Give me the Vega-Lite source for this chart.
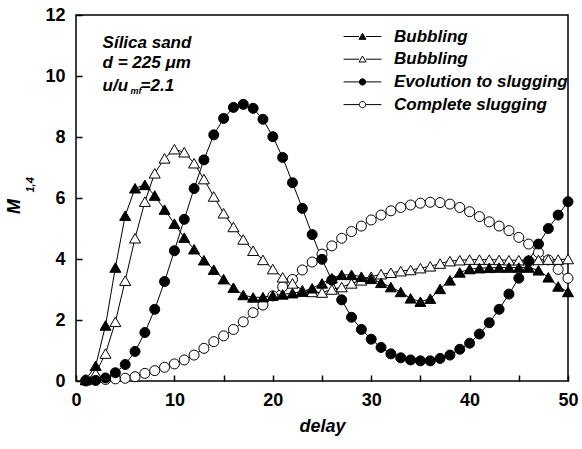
{
  "$schema": "https://vega.github.io/schema/vega-lite/v6.json",
  "autosize": {"type": "none"},
  "padding": {"left": 76, "top": 15, "right": 14, "bottom": 68},
  "width": 492,
  "height": 366,
  "background": "white",
  "config": {
    "font": "Liberation Sans",
    "view": {"stroke": "black", "strokeWidth": 1.5},
    "axis": {
      "domain": false, "offset": -6,
      "ticks": true, "tickColor": "black", "tickOpacity": 1, "tickWidth": 1.5, "tickSize": 6,
      "labelColor": "black", "labelFont": "Liberation Sans", "labelFontWeight": "bold", "labelFontSize": 18,
      "labelFlush": false, "labelOverlap": false,
      "titleColor": "black", "titleFont": "Liberation Sans", "titleFontWeight": "bold", "titleFontStyle": "italic", "titleFontSize": 18,
      "grid": false, "zindex": 1
    }
  },
  "datasets": {
    "main": [
      {"series":"Bubbling A","delay":1,"M":0.05},{"series":"Bubbling A","delay":2,"M":0.5},{"series":"Bubbling A","delay":3,"M":1.82},{"series":"Bubbling A","delay":4,"M":3.72},{"series":"Bubbling A","delay":5,"M":5.42},{"series":"Bubbling A","delay":6,"M":6.32},{"series":"Bubbling A","delay":7,"M":6.43},{"series":"Bubbling A","delay":8,"M":6.08},{"series":"Bubbling A","delay":9,"M":5.62},{"series":"Bubbling A","delay":10,"M":5.16},
      {"series":"Bubbling A","delay":11,"M":4.7},{"series":"Bubbling A","delay":12,"M":4.32},{"series":"Bubbling A","delay":13,"M":3.96},{"series":"Bubbling A","delay":14,"M":3.65},{"series":"Bubbling A","delay":15,"M":3.34},{"series":"Bubbling A","delay":16,"M":3.06},{"series":"Bubbling A","delay":17,"M":2.82},{"series":"Bubbling A","delay":18,"M":2.74},{"series":"Bubbling A","delay":19,"M":2.75},{"series":"Bubbling A","delay":20,"M":2.8},
      {"series":"Bubbling A","delay":21,"M":2.84},{"series":"Bubbling A","delay":22,"M":2.88},{"series":"Bubbling A","delay":23,"M":2.93},{"series":"Bubbling A","delay":24,"M":3.04},{"series":"Bubbling A","delay":25,"M":3.2},{"series":"Bubbling A","delay":26,"M":3.37},{"series":"Bubbling A","delay":27,"M":3.48},{"series":"Bubbling A","delay":28,"M":3.48},{"series":"Bubbling A","delay":29,"M":3.42},{"series":"Bubbling A","delay":30,"M":3.35},
      {"series":"Bubbling A","delay":31,"M":3.22},{"series":"Bubbling A","delay":32,"M":3.08},{"series":"Bubbling A","delay":33,"M":2.92},{"series":"Bubbling A","delay":34,"M":2.71},{"series":"Bubbling A","delay":35,"M":2.6},{"series":"Bubbling A","delay":36,"M":2.7},{"series":"Bubbling A","delay":37,"M":3.02},{"series":"Bubbling A","delay":38,"M":3.3},{"series":"Bubbling A","delay":39,"M":3.56},{"series":"Bubbling A","delay":40,"M":3.67},
      {"series":"Bubbling A","delay":41,"M":3.7},{"series":"Bubbling A","delay":42,"M":3.71},{"series":"Bubbling A","delay":43,"M":3.72},{"series":"Bubbling A","delay":44,"M":3.72},{"series":"Bubbling A","delay":45,"M":3.72},{"series":"Bubbling A","delay":46,"M":3.72},{"series":"Bubbling A","delay":47,"M":3.63},{"series":"Bubbling A","delay":48,"M":3.4},{"series":"Bubbling A","delay":49,"M":3.1},{"series":"Bubbling A","delay":50,"M":2.92},

      {"series":"Bubbling B","delay":1,"M":0.03},{"series":"Bubbling B","delay":2,"M":0.25},{"series":"Bubbling B","delay":3,"M":0.9},{"series":"Bubbling B","delay":4,"M":1.94},{"series":"Bubbling B","delay":5,"M":3.29},{"series":"Bubbling B","delay":6,"M":4.68},{"series":"Bubbling B","delay":7,"M":5.88},{"series":"Bubbling B","delay":8,"M":6.81},{"series":"Bubbling B","delay":9,"M":7.3},{"series":"Bubbling B","delay":10,"M":7.6},
      {"series":"Bubbling B","delay":11,"M":7.5},{"series":"Bubbling B","delay":12,"M":7.14},{"series":"Bubbling B","delay":13,"M":6.62},{"series":"Bubbling B","delay":14,"M":6.05},{"series":"Bubbling B","delay":15,"M":5.5},{"series":"Bubbling B","delay":16,"M":5.05},{"series":"Bubbling B","delay":17,"M":4.64},{"series":"Bubbling B","delay":18,"M":4.27},{"series":"Bubbling B","delay":19,"M":3.97},{"series":"Bubbling B","delay":20,"M":3.67},
      {"series":"Bubbling B","delay":21,"M":3.4},{"series":"Bubbling B","delay":22,"M":3.2},{"series":"Bubbling B","delay":23,"M":2.98},{"series":"Bubbling B","delay":24,"M":2.92},{"series":"Bubbling B","delay":25,"M":2.9},{"series":"Bubbling B","delay":26,"M":3.0},{"series":"Bubbling B","delay":27,"M":3.08},{"series":"Bubbling B","delay":28,"M":3.2},{"series":"Bubbling B","delay":29,"M":3.3},{"series":"Bubbling B","delay":30,"M":3.42},
      {"series":"Bubbling B","delay":31,"M":3.5},{"series":"Bubbling B","delay":32,"M":3.55},{"series":"Bubbling B","delay":33,"M":3.6},{"series":"Bubbling B","delay":34,"M":3.64},{"series":"Bubbling B","delay":35,"M":3.7},{"series":"Bubbling B","delay":36,"M":3.76},{"series":"Bubbling B","delay":37,"M":3.85},{"series":"Bubbling B","delay":38,"M":3.93},{"series":"Bubbling B","delay":39,"M":3.96},{"series":"Bubbling B","delay":40,"M":3.98},
      {"series":"Bubbling B","delay":41,"M":3.98},{"series":"Bubbling B","delay":42,"M":3.98},{"series":"Bubbling B","delay":43,"M":3.97},{"series":"Bubbling B","delay":44,"M":3.96},{"series":"Bubbling B","delay":45,"M":3.96},{"series":"Bubbling B","delay":46,"M":3.96},{"series":"Bubbling B","delay":47,"M":3.97},{"series":"Bubbling B","delay":48,"M":3.98},{"series":"Bubbling B","delay":49,"M":3.98},{"series":"Bubbling B","delay":50,"M":4.0},

      {"series":"Evolution to slugging","delay":1,"M":0.0},{"series":"Evolution to slugging","delay":2,"M":0.02},{"series":"Evolution to slugging","delay":3,"M":0.1},{"series":"Evolution to slugging","delay":4,"M":0.27},{"series":"Evolution to slugging","delay":5,"M":0.54},{"series":"Evolution to slugging","delay":6,"M":0.97},{"series":"Evolution to slugging","delay":7,"M":1.59},{"series":"Evolution to slugging","delay":8,"M":2.35},{"series":"Evolution to slugging","delay":9,"M":3.26},{"series":"Evolution to slugging","delay":10,"M":4.27},
      {"series":"Evolution to slugging","delay":11,"M":5.3},{"series":"Evolution to slugging","delay":12,"M":6.31},{"series":"Evolution to slugging","delay":13,"M":7.25},{"series":"Evolution to slugging","delay":14,"M":8.07},{"series":"Evolution to slugging","delay":15,"M":8.61},{"series":"Evolution to slugging","delay":16,"M":8.97},{"series":"Evolution to slugging","delay":17,"M":9.07},{"series":"Evolution to slugging","delay":18,"M":8.94},{"series":"Evolution to slugging","delay":19,"M":8.58},{"series":"Evolution to slugging","delay":20,"M":8.01},
      {"series":"Evolution to slugging","delay":21,"M":7.33},{"series":"Evolution to slugging","delay":22,"M":6.5},{"series":"Evolution to slugging","delay":23,"M":5.66},{"series":"Evolution to slugging","delay":24,"M":4.8},{"series":"Evolution to slugging","delay":25,"M":3.99},{"series":"Evolution to slugging","delay":26,"M":3.31},{"series":"Evolution to slugging","delay":27,"M":2.66},{"series":"Evolution to slugging","delay":28,"M":2.09},{"series":"Evolution to slugging","delay":29,"M":1.69},{"series":"Evolution to slugging","delay":30,"M":1.37},
      {"series":"Evolution to slugging","delay":31,"M":1.1},{"series":"Evolution to slugging","delay":32,"M":0.89},{"series":"Evolution to slugging","delay":33,"M":0.76},{"series":"Evolution to slugging","delay":34,"M":0.69},{"series":"Evolution to slugging","delay":35,"M":0.66},{"series":"Evolution to slugging","delay":36,"M":0.66},{"series":"Evolution to slugging","delay":37,"M":0.74},{"series":"Evolution to slugging","delay":38,"M":0.85},{"series":"Evolution to slugging","delay":39,"M":1.04},{"series":"Evolution to slugging","delay":40,"M":1.24},
      {"series":"Evolution to slugging","delay":41,"M":1.54},{"series":"Evolution to slugging","delay":42,"M":1.91},{"series":"Evolution to slugging","delay":43,"M":2.35},{"series":"Evolution to slugging","delay":44,"M":2.85},{"series":"Evolution to slugging","delay":45,"M":3.37},{"series":"Evolution to slugging","delay":46,"M":3.94},{"series":"Evolution to slugging","delay":47,"M":4.49},{"series":"Evolution to slugging","delay":48,"M":5.0},{"series":"Evolution to slugging","delay":49,"M":5.44},{"series":"Evolution to slugging","delay":50,"M":5.88},

      {"series":"Complete slugging","delay":1,"M":0.03},{"series":"Complete slugging","delay":2,"M":0.03},{"series":"Complete slugging","delay":3,"M":0.05},{"series":"Complete slugging","delay":4,"M":0.07},{"series":"Complete slugging","delay":5,"M":0.09},{"series":"Complete slugging","delay":6,"M":0.14},{"series":"Complete slugging","delay":7,"M":0.25},{"series":"Complete slugging","delay":8,"M":0.34},{"series":"Complete slugging","delay":9,"M":0.45},{"series":"Complete slugging","delay":10,"M":0.56},
      {"series":"Complete slugging","delay":11,"M":0.69},{"series":"Complete slugging","delay":12,"M":0.85},{"series":"Complete slugging","delay":13,"M":1.07},{"series":"Complete slugging","delay":14,"M":1.29},{"series":"Complete slugging","delay":15,"M":1.48},{"series":"Complete slugging","delay":16,"M":1.69},{"series":"Complete slugging","delay":17,"M":1.94},{"series":"Complete slugging","delay":18,"M":2.24},{"series":"Complete slugging","delay":19,"M":2.49},{"series":"Complete slugging","delay":20,"M":2.79},
      {"series":"Complete slugging","delay":21,"M":3.09},{"series":"Complete slugging","delay":22,"M":3.33},{"series":"Complete slugging","delay":23,"M":3.64},{"series":"Complete slugging","delay":24,"M":3.9},{"series":"Complete slugging","delay":25,"M":4.16},{"series":"Complete slugging","delay":26,"M":4.43},{"series":"Complete slugging","delay":27,"M":4.68},{"series":"Complete slugging","delay":28,"M":4.9},{"series":"Complete slugging","delay":29,"M":5.08},{"series":"Complete slugging","delay":30,"M":5.28},
      {"series":"Complete slugging","delay":31,"M":5.44},{"series":"Complete slugging","delay":32,"M":5.58},{"series":"Complete slugging","delay":33,"M":5.69},{"series":"Complete slugging","delay":34,"M":5.77},{"series":"Complete slugging","delay":35,"M":5.83},{"series":"Complete slugging","delay":36,"M":5.86},{"series":"Complete slugging","delay":37,"M":5.85},{"series":"Complete slugging","delay":38,"M":5.8},{"series":"Complete slugging","delay":39,"M":5.69},{"series":"Complete slugging","delay":40,"M":5.55},
      {"series":"Complete slugging","delay":41,"M":5.39},{"series":"Complete slugging","delay":42,"M":5.22},{"series":"Complete slugging","delay":43,"M":5.08},{"series":"Complete slugging","delay":44,"M":4.93},{"series":"Complete slugging","delay":45,"M":4.71},{"series":"Complete slugging","delay":46,"M":4.49},{"series":"Complete slugging","delay":47,"M":4.21},{"series":"Complete slugging","delay":48,"M":3.97},{"series":"Complete slugging","delay":49,"M":3.66},{"series":"Complete slugging","delay":50,"M":3.37}
    ]
  },
  "data": {"name": "main"},
  "layer": [
    {
      "encoding": {
        "x": {
          "field": "delay", "type": "quantitative",
          "scale": {"domain": [0, 50], "nice": false},
          "axis": {
            "values": [0, 5, 10, 15, 20, 25, 30, 35, 40, 45, 50],
            "labelExpr": "datum.value % 10 === 0 ? datum.label : ''",
            "labelPadding": 10,
            "title": "delay", "titleY": 51, "titleBaseline": "middle"
          }
        },
        "y": {
          "field": "M", "type": "quantitative",
          "scale": {"domain": [0, 12], "nice": false},
          "axis": {
            "values": [0, 1, 2, 3, 4, 5, 6, 7, 8, 9, 10, 11, 12],
            "labelExpr": "datum.value % 2 === 0 ? datum.label : ''",
            "labelPadding": 11,
            "title": "M", "titleX": -59, "titleY": 191
          }
        }
      },
      "layer": [
        {
          "mark": {"type": "line", "color": "black", "strokeWidth": 1},
          "encoding": {"detail": {"field": "series", "type": "nominal"}}
        },
        {
          "transform": [{"filter": "datum.series === 'Complete slugging'"}],
          "mark": {"type": "point", "shape": "circle", "size": 100, "filled": true, "fill": "white", "stroke": "black", "strokeWidth": 1, "opacity": 1}
        },
        {
          "transform": [{"filter": "datum.series === 'Bubbling B'"}],
          "mark": {"type": "point", "shape": "triangle-up", "size": 121, "filled": true, "fill": "white", "stroke": "black", "strokeWidth": 1, "opacity": 1}
        },
        {
          "transform": [{"filter": "datum.series === 'Bubbling A'"}],
          "mark": {"type": "point", "shape": "triangle-up", "size": 121, "filled": true, "fill": "black", "stroke": "black", "strokeWidth": 1, "opacity": 1}
        },
        {
          "transform": [{"filter": "datum.series === 'Evolution to slugging'"}],
          "mark": {"type": "point", "shape": "circle", "size": 100, "filled": true, "fill": "black", "stroke": "black", "strokeWidth": 1, "opacity": 1}
        },
        {
          "mark": {"type": "point", "filled": true, "opacity": 0, "stroke": "black"},
          "encoding": {
            "shape": {
              "field": "series", "type": "nominal",
              "scale": {
                "domain": ["Bubbling A", "Bubbling B", "Evolution to slugging", "Complete slugging"],
                "range": [
                  "M-5.4,0H-1M1,0H5.4M0,-0.9L1,0.8L-1,0.8Z",
                  "M-5.4,0H-1M1,0H5.4M0,-0.9L1,0.8L-1,0.8Z",
                  "M-5.4,0H-0.9M0.9,0H5.4M0.9,0A0.9,0.9,0,1,1,-0.9,0A0.9,0.9,0,1,1,0.9,0Z",
                  "M-5.4,0H-0.9M0.9,0H5.4M0.9,0A0.9,0.9,0,1,1,-0.9,0A0.9,0.9,0,1,1,0.9,0Z"
                ]
              },
              "legend": {
                "orient": "none", "legendX": 278, "legendY": 13, "title": null, "padding": 0,
                "symbolSize": 49, "symbolStrokeColor": "black", "symbolStrokeWidth": 1, "symbolOpacity": 1,
                "labelOffset": 23, "rowPadding": 4.7, "labelLimit": 0,
                "labelFont": "Liberation Sans", "labelFontSize": 17, "labelFontStyle": "italic", "labelFontWeight": "bold", "labelColor": "black",
                "labelExpr": "indexof(datum.label, 'Bubbling') === 0 ? 'Bubbling' : datum.label",
                "encode": {"symbols": {"update": {"stroke": {"value": "black"}, "strokeWidth": {"value": 1}, "opacity": {"value": 1}}}}
              }
            },
            "fill": {
              "field": "series", "type": "nominal",
              "scale": {
                "domain": ["Bubbling A", "Bubbling B", "Evolution to slugging", "Complete slugging"],
                "range": ["black", "white", "black", "white"]
              },
              "legend": {
                "orient": "none", "legendX": 278, "legendY": 13, "title": null, "padding": 0,
                "symbolSize": 49, "symbolStrokeColor": "black", "symbolStrokeWidth": 1, "symbolOpacity": 1,
                "labelOffset": 23, "rowPadding": 4.7, "labelLimit": 0,
                "labelFont": "Liberation Sans", "labelFontSize": 17, "labelFontStyle": "italic", "labelFontWeight": "bold", "labelColor": "black",
                "labelExpr": "indexof(datum.label, 'Bubbling') === 0 ? 'Bubbling' : datum.label",
                "encode": {"symbols": {"update": {"stroke": {"value": "black"}, "strokeWidth": {"value": 1}, "opacity": {"value": 1}}}}
              }
            }
          }
        }
      ]
    },
    {
      "data": {"values": [{"note": "Sílica sand"}]},
      "mark": {"type": "text", "align": "left", "baseline": "middle", "font": "Liberation Sans", "fontSize": 17, "fontWeight": "bold", "fontStyle": "italic", "color": "black"},
      "encoding": {"x": {"datum": 2.7, "type": "quantitative"}, "y": {"datum": 11.09, "type": "quantitative"}, "text": {"field": "note", "type": "nominal"}}
    },
    {
      "data": {"values": [{"note": "d = 225 μm"}]},
      "mark": {"type": "text", "align": "left", "baseline": "middle", "font": "Liberation Sans", "fontSize": 17, "fontWeight": "bold", "fontStyle": "italic", "color": "black"},
      "encoding": {"x": {"datum": 2.7, "type": "quantitative"}, "y": {"datum": 10.41, "type": "quantitative"}, "text": {"field": "note", "type": "nominal"}}
    },
    {
      "data": {"values": [{"note": "u/u"}]},
      "mark": {"type": "text", "align": "left", "baseline": "middle", "font": "Liberation Sans", "fontSize": 17, "fontWeight": "bold", "fontStyle": "italic", "color": "black"},
      "encoding": {"x": {"datum": 2.7, "type": "quantitative"}, "y": {"datum": 9.67, "type": "quantitative"}, "text": {"field": "note", "type": "nominal"}}
    },
    {
      "data": {"values": [{"note": "mf"}]},
      "mark": {"type": "text", "align": "left", "baseline": "middle", "dx": 28, "dy": 5, "font": "Liberation Sans", "fontSize": 9, "fontWeight": "bold", "fontStyle": "italic", "color": "black"},
      "encoding": {"x": {"datum": 2.7, "type": "quantitative"}, "y": {"datum": 9.67, "type": "quantitative"}, "text": {"field": "note", "type": "nominal"}}
    },
    {
      "data": {"values": [{"note": "=2.1"}]},
      "mark": {"type": "text", "align": "left", "baseline": "middle", "dx": 38, "font": "Liberation Sans", "fontSize": 17, "fontWeight": "bold", "fontStyle": "italic", "color": "black"},
      "encoding": {"x": {"datum": 2.7, "type": "quantitative"}, "y": {"datum": 9.67, "type": "quantitative"}, "text": {"field": "note", "type": "nominal"}}
    },
    {
      "data": {"values": [{"note": "1,4"}]},
      "mark": {"type": "text", "align": "center", "baseline": "middle", "angle": 270, "font": "Liberation Sans", "fontSize": 11, "fontWeight": "bold", "fontStyle": "italic", "color": "black"},
      "encoding": {"x": {"datum": -4.57, "type": "quantitative"}, "y": {"datum": 6.43, "type": "quantitative"}, "text": {"field": "note", "type": "nominal"}}
    }
  ]
}
